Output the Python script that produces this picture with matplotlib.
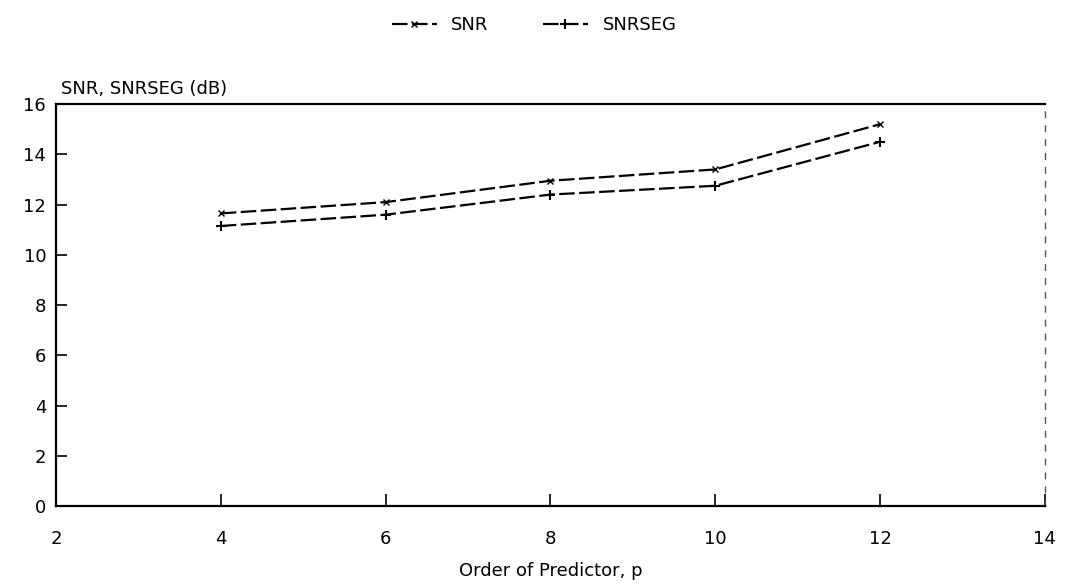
import matplotlib
matplotlib.use("Agg")
import matplotlib.pyplot as plt

order = [4, 6, 8, 10, 12]
snr = [11.65, 12.1, 12.95, 13.4, 15.2]
snrseg = [11.15, 11.6, 12.4, 12.75, 14.5]
xticks = [2, 4, 6, 8, 10, 12, 14]
yticks = [0, 2, 4, 6, 8, 10, 12, 14, 16]

plt.rcParams['font.family'] = ['DejaVu Sans']
fig = plt.figure(figsize=(10.68, 5.88), dpi=100)
ax = fig.add_axes([0.0524, 0.139, 0.926, 0.684])

l1, = ax.plot(order, snr, color='black', lw=1.6, ls=(0, (7, 2)), marker='x',
              ms=5, mew=1, label='SNR')
l2, = ax.plot(order, snrseg, color='black', lw=1.6, ls=(0, (7, 2)), marker='+',
              ms=7, mew=1.5, label='SNRSEG')

ax.set_xlim(2, 14)
ax.set_ylim(0, 16)
ax.set_xticks(xticks)
ax.set_yticks(yticks)
ax.tick_params(axis='both', direction='in', labelsize=13, width=1.2)
ax.tick_params(axis='x', length=9, pad=17)
ax.tick_params(axis='y', length=8, pad=7)
for s in ['left', 'bottom', 'top']:
    ax.spines[s].set_linewidth(1.6)
ax.spines['right'].set_linestyle((0, (4, 6)))
ax.spines['right'].set_color('#555555')
ax.spines['right'].set_linewidth(1.0)

ax.set_xlabel('Order of Predictor, p', fontsize=13, labelpad=10)
ax.text(0.005, 1.015, 'SNR, SNRSEG (dB)', transform=ax.transAxes, fontsize=13,
        ha='left', va='bottom')

fig.legend(handles=[l1, l2], loc='upper center', bbox_to_anchor=(0.5, 1.0),
           ncol=2, frameon=False, fontsize=13, handlelength=2.5,
           columnspacing=3)

fig.savefig('out.png', dpi=100)
